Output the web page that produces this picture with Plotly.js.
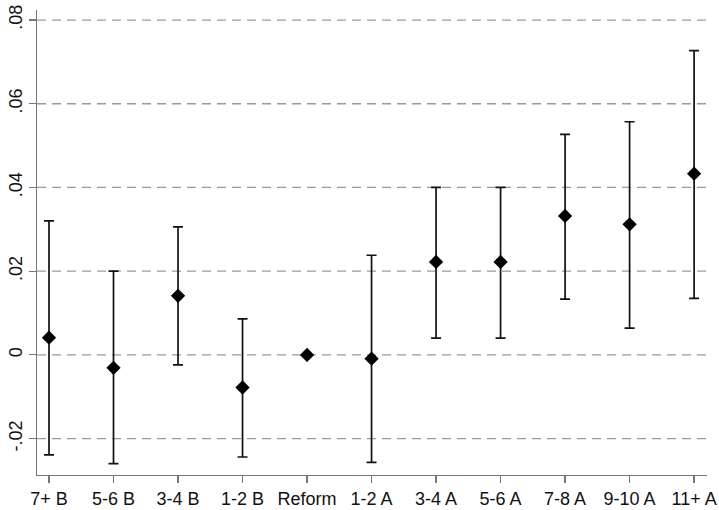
<!DOCTYPE html>
<html>
<head>
<meta charset="utf-8">
<script src="https://cdn.plot.ly/plotly-3.0.1.min.js"></script>
<style>
  html, body { margin: 0; padding: 0; background: #fff; }
  #chart { width: 719px; height: 510px; }
</style>
</head>
<body>
<div id="chart"></div>
<script>
// Event-time categories relative to the reform
const categories = ["7+ B", "5-6 B", "3-4 B", "1-2 B", "Reform", "1-2 A",
                    "3-4 A", "5-6 A", "7-8 A", "9-10 A", "11+ A"];

// Point estimates and confidence bounds
const estimate = [0.0041, -0.0031, 0.0141, -0.0078, 0.0, -0.0009,
                  0.0222, 0.0222, 0.0332, 0.0312, 0.0433];
const upper    = [0.0320, 0.0200, 0.0306, 0.0086, 0.0, 0.0238,
                  0.0400, 0.0400, 0.0527, 0.0557, 0.0727];
const lower    = [-0.0239, -0.0260, -0.0024, -0.0244, 0.0, -0.0257,
                  0.0040, 0.0040, 0.0133, 0.0064, 0.0135];

// Y-axis ticks
const yTickVals = [-0.02, 0, 0.02, 0.04, 0.06, 0.08];
const yTickText = ["-.02", "0", ".02", ".04", ".06", ".08"];

const xIndex = categories.map((_, i) => i);

const trace = {
  type: "scatter",
  mode: "markers",
  x: xIndex,
  y: estimate,
  marker: { symbol: "diamond", size: 11, color: "#000" },
  error_y: {
    type: "data",
    symmetric: false,
    array: upper.map((u, i) => u - estimate[i]),
    arrayminus: lower.map((l, i) => estimate[i] - l),
    color: "#111",
    thickness: 1.7,
    width: 5
  },
  hoverinfo: "skip",
  showlegend: false
};

// Dashed horizontal reference lines at each y tick
const gridShapes = yTickVals.map(v => ({
  type: "line",
  xref: "paper", x0: 0, x1: 1,
  yref: "y", y0: v, y1: v,
  line: { color: "#9a9a9a", width: 1.3, dash: "9px,6px" },
  layer: "below"
}));

const tickFont = { family: "Liberation Sans, Arial, Helvetica, sans-serif", size: 18, color: "#111" };

const layout = {
  width: 719,
  height: 510,
  margin: { l: 37, r: 12, t: 10, b: 35 },
  paper_bgcolor: "#fff",
  plot_bgcolor: "#fff",
  showlegend: false,
  xaxis: {
    range: [-0.186, 10.2],
    tickmode: "array",
    tickvals: xIndex,
    ticktext: categories,
    ticks: "outside",
    ticklen: 7,
    tickwidth: 1.2,
    tickcolor: "#777",
    showgrid: false,
    zeroline: false,
    showline: true,
    linecolor: "#777",
    linewidth: 1.3,
    tickfont: tickFont
  },
  yaxis: {
    range: [-0.0287, 0.0824],
    tickmode: "array",
    tickvals: yTickVals,
    ticktext: yTickText,
    tickangle: -90,
    ticks: "outside",
    ticklen: 7,
    tickwidth: 1.2,
    tickcolor: "#777",
    showgrid: false,
    zeroline: false,
    showline: true,
    linecolor: "#777",
    linewidth: 1.3,
    tickfont: tickFont
  },
  shapes: gridShapes
};

Plotly.newPlot("chart", [trace], layout, { staticPlot: true, displayModeBar: false });
</script>
</body>
</html>
